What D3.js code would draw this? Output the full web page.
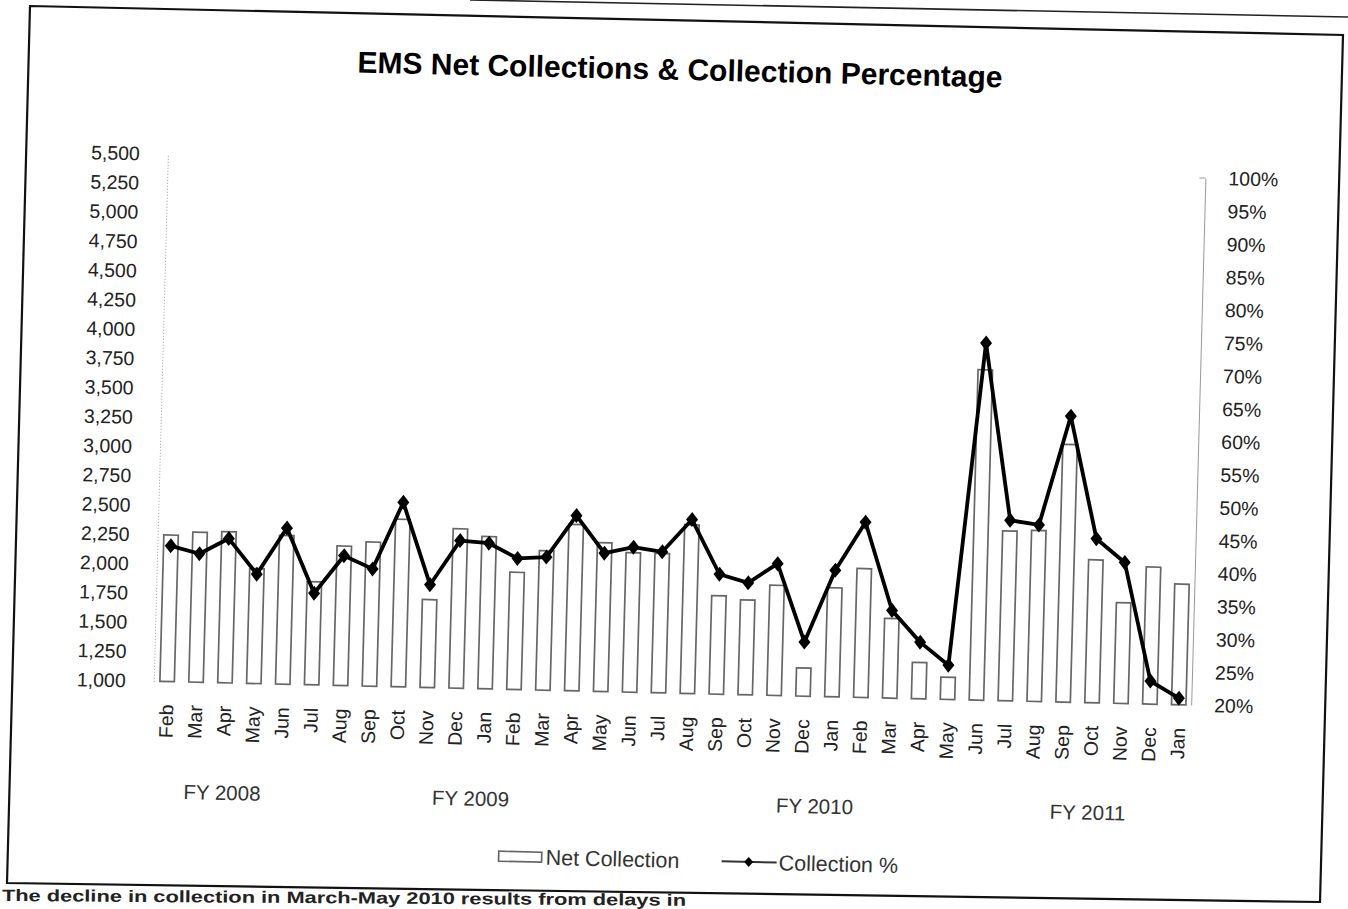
<!DOCTYPE html>
<html><head><meta charset="utf-8">
<script src="https://cdn.jsdelivr.net/npm/d3@7"></script>
<style>body{margin:0;background:#fff;overflow:hidden}</style>
</head><body>
<svg id="c" width="1348" height="909"></svg>
<script>
// ---- data ----
const months = ["Feb","Mar","Apr","May","Jun","Jul","Aug","Sep","Oct","Nov","Dec","Jan",
                "Feb","Mar","Apr","May","Jun","Jul","Aug","Sep","Oct","Nov","Dec","Jan",
                "Feb","Mar","Apr","May","Jun","Jul","Aug","Sep","Oct","Nov","Dec","Jan"];
const netCollection = [2250,2280,2290,1980,2270,1880,2190,2230,2430,1750,2360,2300,
                       2000,2190,2420,2270,2190,2190,2440,1840,1810,1940,1240,1930,
                       2100,1680,1310,1190,3820,2450,2460,3200,2220,1860,2170,2030];
const collectionPct = [40.6,39.5,41.9,36.6,43.7,33.9,39.7,37.8,48.0,35.6,42.4,42.1,
                       39.9,40.2,46.6,41.0,42.0,41.4,46.4,38.2,37.0,40.0,28.2,39.2,
                       46.6,33.3,28.6,25.2,74.2,47.4,46.8,63.4,44.9,41.4,23.5,21.0];
const leftTicks = d3.range(1000, 5501, 250);
const rightTicks = d3.range(20, 101, 5);
const fiscalYears = ["FY 2008","FY 2009","FY 2010","FY 2011"];
const seriesNames = ["Net Collection","Collection %"];
const titleText = "EMS Net Collections & Collection Percentage";
const captionText = "The decline in collection in March-May 2010 results from delays in";

// ---- layout ----
const font = "'Liberation Sans', Arial, Helvetica, sans-serif";
const svg = d3.select("#c");
const fyAt = [2.0, 10.6, 22.5, 31.95];   // category offsets of the FY captions

// scanned-page frame
svg.append("path").attr("d","M30,6 L1343,35 L1320,902 L7,883 Z")
  .attr("fill","none").attr("stroke","#111").attr("stroke-width",2.2);
svg.append("line").attr("x1",470).attr("y1",0).attr("x2",1348).attr("y2",17)
  .attr("stroke","#222").attr("stroke-width",1.6);

// the scan is slightly sheared
const cx = 674, cy = 440, b = 0.023, c = -0.027;
const g = svg.append("g").attr("transform", `matrix(1,${b},${c},1,${-c*cy},${-b*cx})`);

const x = d3.scaleBand().domain(d3.range(months.length)).range([159.5, 1200])
  .paddingInner(0.5).paddingOuter(0.25);
const yL = d3.scaleLinear().domain([1000, 5500]).range([693, 166]);
const yR = d3.scaleLinear().domain([20, 100]).range([693, 166]);
const bw = x.bandwidth();
const xc = i => x(i) + bw / 2;

// title
g.append("text").attr("x", 670).attr("y", 80).attr("text-anchor","middle")
  .attr("font-family", font).attr("font-weight","bold").attr("font-size", 30)
  .attr("fill","#000").text(titleText);

// left axis
const ax1 = g.append("g").attr("transform","translate(160.5,0)")
  .call(d3.axisLeft(yL).tickValues(leftTicks).tickFormat(d3.format(",")).tickSize(0).tickSizeOuter(0).tickPadding(28));
ax1.select(".domain").attr("stroke","#999").attr("stroke-width",1).attr("stroke-dasharray","1,2");
ax1.selectAll("text").attr("font-family", font).attr("font-size", 19.5).attr("fill","#222");

// right axis
const ax2 = g.append("g").attr("transform","translate(1198,0)")
  .call(d3.axisRight(yR).tickValues(rightTicks).tickFormat(d => d + "%").tickSize(0).tickSizeOuter(0).tickPadding(23));
ax2.select(".domain").attr("stroke","#999").attr("stroke-width",1);
ax2.selectAll("text").attr("font-family", font).attr("font-size", 19.5).attr("fill","#222");
g.append("line").attr("x1",1192).attr("x2",1198).attr("y1",yR(100)).attr("y2",yR(100))
  .attr("stroke","#999").attr("stroke-width",1);

// bars
g.append("g").selectAll("rect").data(netCollection).join("rect")
  .attr("x", (d,i) => x(i)).attr("y", d => yL(d))
  .attr("width", bw).attr("height", d => yL(1000) - yL(d))
  .attr("fill","#fff").attr("stroke","#666").attr("stroke-width",1.7);

// line + markers
const line = d3.line().x((d,i) => xc(i)).y(d => yR(d));
g.append("path").datum(collectionPct).attr("d", line)
  .attr("fill","none").attr("stroke","#000").attr("stroke-width",3.8).attr("stroke-linejoin","round");
const diamond = "M0,-7.5L6,0L0,7.5L-6,0Z";
g.append("g").selectAll("path").data(collectionPct).join("path")
  .attr("transform", (d,i) => `translate(${xc(i)},${yR(d)})`)
  .attr("d", diamond).attr("fill","#000");

// category labels
g.append("g").selectAll("text").data(months).join("text")
  .attr("transform", (d,i) => `translate(${xc(i)},716) rotate(-90)`)
  .attr("text-anchor","end").attr("dy","0.35em")
  .attr("font-family", font).attr("font-size", 19.5).attr("fill","#222")
  .text(d => d);

// fiscal year captions
g.append("g").selectAll("text").data(fiscalYears).join("text")
  .attr("x", (d,i) => xc(0) + x.step() * fyAt[i]).attr("y", 810)
  .attr("text-anchor","middle").attr("font-family", font).attr("font-size", 20.5).attr("fill","#333")
  .text(d => d);

// legend
const lg = g.append("g");
lg.append("rect").attr("x",510).attr("y",855).attr("width",43).attr("height",10)
  .attr("fill","#fff").attr("stroke","#666").attr("stroke-width",1.7);
lg.append("text").attr("x",557).attr("y",860).attr("dy","0.35em")
  .attr("font-family", font).attr("font-size", 21.5).attr("fill","#333").text(seriesNames[0]);
lg.append("line").attr("x1",733).attr("x2",788).attr("y1",860).attr("y2",860)
  .attr("stroke","#333").attr("stroke-width",2);
lg.append("path").attr("transform","translate(760,860)").attr("d","M0,-5L4.5,0L0,5L-4.5,0Z").attr("fill","#000");
lg.append("text").attr("x",790).attr("y",860).attr("dy","0.35em")
  .attr("font-family", font).attr("font-size", 21.5).attr("fill","#333").text(seriesNames[1]);

// caption under the frame (at the page edge)
svg.append("text").attr("x",2).attr("y",901).attr("transform","rotate(0.4,2,901)")
  .attr("font-family", font).attr("font-weight","bold").attr("font-size",16.5).attr("fill","#222")
  .attr("textLength",684).attr("lengthAdjust","spacingAndGlyphs")
  .text(captionText);
</script>
</body></html>
